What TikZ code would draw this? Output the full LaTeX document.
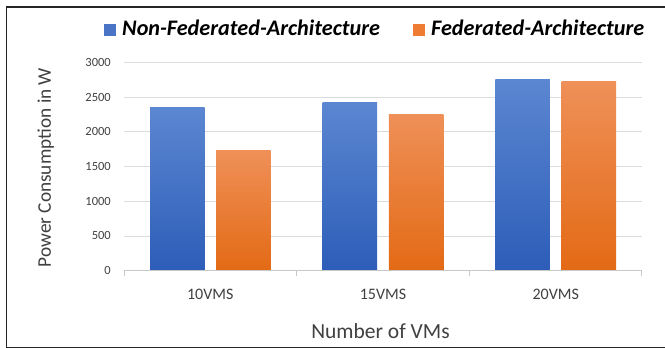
\documentclass[tikz,border=0pt]{standalone}
\usepackage{fontspec}
\setmainfont{Carlito}
\definecolor{blueTop}{HTML}{5B86D1}
\definecolor{blueBot}{HTML}{2D5DB8}
\definecolor{orTop}{HTML}{EF9058}
\definecolor{orBot}{HTML}{E36A15}
\definecolor{blueKey}{HTML}{4A74C6}
\definecolor{orKey}{HTML}{EE7D33}
\definecolor{gridc}{HTML}{DCDCDC}
\definecolor{axisc}{HTML}{C8C8C8}
\definecolor{labc}{HTML}{404040}
\tikzset{
  gridline/.style={draw=gridc, line width=0.8pt},
  axisline/.style={draw=axisc, line width=0.9pt},
  ticklab/.style={font=\fontsize{12.5}{14}\selectfont, text=labc, inner sep=0pt, anchor=east},
  catlab/.style={font=\fontsize{16}{18}\selectfont, text=labc, inner sep=0pt},
  axtitle/.style={text=labc, inner sep=0pt, anchor=base},
  keytext/.style={font=\fontsize{22.2}{25}\selectfont\bfseries\itshape, text=black, inner sep=0pt, anchor=base west},
  bluebar/.style={top color=blueTop, bottom color=blueBot},
  orbar/.style={top color=orTop, bottom color=orBot},
}
\begin{document}
\begin{tikzpicture}[x=1pt, y=-1pt]
\useasboundingbox (0,0) rectangle (665,348);
\fill[white] (0,0) rectangle (665,348);

% outer frame (runs off the right edge)
\draw[line width=1.4pt, draw=black!85] (670,6.8) -- (6.6,6.8) -- (6.6,347.3) -- (670,347.3);

% horizontal gridlines and value labels (0 .. 3000 step 500)
\foreach \k in {1,...,6}{
  \draw[gridline] (124,{270.7-\k*34.73}) -- (641.5,{270.7-\k*34.73});
}
\foreach \k/\v in {0/0,1/500,2/1000,3/1500,4/2000,5/2500,6/3000}{
  \node[ticklab] (v\k) at (111,{270.7-\k*34.73}) {\v};
}

% bars: category centre / top of blue bar / top of orange bar
\foreach \i/\c/\b/\o in {1/210.3/107.7/150.0, 2/383.0/102.3/114.0, 3/555.7/79.0/81.7}{
  \shade[bluebar] ({\c-60.3},\b) rectangle ({\c-5.8},270.7);
  \shade[orbar]   ({\c+5.8},\o) rectangle ({\c+60.3},270.7);
}

% category axis with boundary ticks
\draw[axisline] (124,270.7) -- (641.5,270.7);
\foreach \x in {124,296.7,469.3,641.5}{
  \draw[axisline] (\x,270.7) -- (\x,275.5);
}
\node[catlab] (c1) at (210.3,294) {10VMS};
\node[catlab] (c2) at (383.0,294) {15VMS};
\node[catlab] (c3) at (555.7,294) {20VMS};

% axis titles
\node[axtitle, font=\fontsize{21.5}{24}\selectfont] (xt) at (380.5,338) {Number of VMs};
\node[axtitle, font=\fontsize{19.3}{22}\selectfont, rotate=90] (yt) at (50.8,167.5) {Power Consumption in W};

% legend
\fill[blueKey] (103.5,23.8) rectangle (115.5,35.5);
\node[keytext] (k1) at (122,35) {Non-Federated-Architecture};
\fill[orKey] (413,23.8) rectangle (425,35.5);
\node[keytext] (k2) at (431,35) {Federated-Architecture};
\end{tikzpicture}
\end{document}
